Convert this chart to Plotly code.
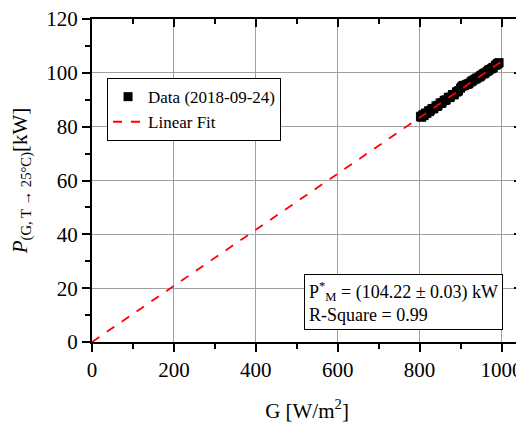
import plotly.graph_objects as go

G_data = [802, 804, 805, 808, 810, 811, 814, 816, 818, 822, 824, 826, 830, 833, 835, 840, 843, 845,
          850, 853, 855, 860, 862, 865, 870, 873, 875, 880, 883, 885, 890, 893, 895, 900, 903, 906,
          908, 910, 915, 918, 920, 925, 928, 930, 935, 938, 940, 945, 948, 950, 955, 958, 960, 965,
          968, 970, 975, 978, 980, 985, 988, 990, 992, 994]
P_data = [83.7, 83.9, 83.5, 84.4, 84.1, 84.3, 85.0, 84.9, 85.1, 85.9, 85.6, 86.0, 86.7, 86.6, 86.8,
          87.7, 87.5, 87.9, 88.8, 88.6, 89.0, 89.8, 89.7, 90.0, 90.9, 90.8, 91.0, 91.9, 91.8, 92.0,
          92.9, 93.0, 93.4, 94.3, 94.9, 95.3, 95.2, 95.4, 95.7, 95.8, 96.0, 96.6, 96.9, 97.2, 97.6,
          97.8, 98.1, 98.4, 98.7, 99.1, 99.6, 99.7, 100.0, 100.5, 100.9, 101.2, 101.5, 101.8, 102.0,
          102.8, 103.0, 103.4, 103.5, 103.8]

# Linear fit through origin
G_fit = [0, 1000]
P_fit = [0, 104.22]

x_ticks = [0, 200, 400, 600, 800, 1000]
y_ticks = [0, 20, 40, 60, 80, 100, 120]
x_minor = [100, 300, 500, 700, 900]
y_minor = [10, 30, 50, 70, 90, 110]

FONT = "Liberation Serif, Times New Roman, serif"

fig = go.Figure()
fig.add_trace(go.Scatter(
    x=G_data, y=P_data, mode="markers", name="Data (2018-09-24)",
    marker=dict(symbol="square", size=9, color="black"),
))
fig.add_trace(go.Scatter(
    x=G_fit, y=P_fit, mode="lines", name="Linear Fit",
    line=dict(color="red", width=1.8, dash="dash"),
))
# helper trace for top/right mirrored axes
fig.add_trace(go.Scatter(
    x=G_fit, y=P_fit, xaxis="x2", yaxis="y2", mode="lines",
    line=dict(width=0, color="rgba(0,0,0,0)"), showlegend=False, hoverinfo="skip",
))

axis_common = dict(
    showline=True, linecolor="black", linewidth=2, automargin=False,
    showgrid=True, gridcolor="#a0a0a0", gridwidth=1, zeroline=False,
    tickfont=dict(family=FONT, size=21, color="black"),
    ticklabeloverflow="allow",
)

fig.update_layout(
    width=524, height=425,
    margin=dict(l=84, r=10, t=11, b=91),
    paper_bgcolor="white", plot_bgcolor="white",
    font=dict(family=FONT, color="black"),
    xaxis=dict(
        range=[0, 1050], tickvals=x_ticks, ticks="outside", ticklen=8, tickwidth=2, tickcolor="black",
        minor=dict(tickvals=x_minor, ticks="outside", ticklen=5, tickwidth=2,
                   tickcolor="black", showgrid=False),
        title=dict(text="G [W/m<sup>2</sup>]", font=dict(family=FONT, size=21, color="black"), standoff=22),
        **axis_common,
    ),
    yaxis=dict(
        range=[0, 120], tickvals=y_ticks, ticks="outside", ticklen=8, tickwidth=2, tickcolor="black",
        minor=dict(tickvals=y_minor, ticks="outside", ticklen=5, tickwidth=2,
                   tickcolor="black", showgrid=False),
        title=dict(text="<i>P</i><sub>(G, T \u2192 25\u00b0C)</sub>[kW]",
                   font=dict(family=FONT, size=21, color="black"), standoff=13),
        **axis_common,
    ),
    xaxis2=dict(
        overlaying="x", side="top", matches="x", range=[0, 1050], tickvals=x_ticks,
        ticks="inside", ticklen=8, tickwidth=2, tickcolor="black", showticklabels=False,
        minor=dict(tickvals=x_minor, ticks="inside", ticklen=5, tickwidth=2, tickcolor="black"),
        showline=True, linecolor="black", linewidth=2, showgrid=False, zeroline=False,
        automargin=False,
    ),
    yaxis2=dict(
        overlaying="y", side="right", matches="y", range=[0, 120], tickvals=y_ticks,
        ticks="inside", ticklen=8, tickwidth=2, tickcolor="black", showticklabels=False,
        minor=dict(tickvals=y_minor, ticks="inside", ticklen=5, tickwidth=2, tickcolor="black"),
        showline=True, linecolor="black", linewidth=2, showgrid=False, zeroline=False,
        automargin=False,
    ),
    legend=dict(
        x=0.035, y=0.817, xanchor="left", yanchor="top",
        bgcolor="white", bordercolor="black", borderwidth=1,
        font=dict(family=FONT, size=17, color="black"),
        tracegroupgap=0, itemwidth=30,
    ),
    showlegend=True,
)

fig.add_annotation(
    xref="paper", yref="paper", x=0.956, y=0.037, xanchor="right", yanchor="bottom",
    text="P<sup>*</sup><sub>M</sub> = (104.22 \u00b1 0.03) kW<br>R-Square = 0.99",
    showarrow=False, align="left",
    font=dict(family=FONT, size=18, color="black"),
    bordercolor="black", borderwidth=1, bgcolor="white", borderpad=4,
)

fig.write_html("out.html")
